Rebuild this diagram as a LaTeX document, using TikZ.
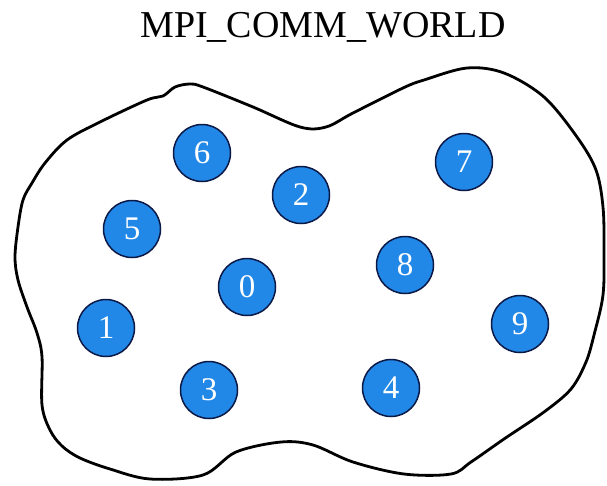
\documentclass[tikz,border=0pt]{standalone}
\usepackage{fontspec}
\setmainfont{Liberation Serif}
\definecolor{procfill}{RGB}{34,136,232}
\definecolor{procline}{RGB}{10,25,70}
\begin{document}
\begin{tikzpicture}[x=1pt,y=-1pt,
  proc/.style={circle,draw=procline,line width=1.5pt,fill=procfill,minimum size=57pt,inner sep=0pt,text=white,font=\fontsize{33}{33}\selectfont},
  blob/.style={draw=black,line width=2.8pt}]
\useasboundingbox (0,0) rectangle (607,485);
\node[anchor=base,font=\fontsize{38}{38}\selectfont] (title) at (323,37) {MPI\_COMM\_WORLD};
\draw[blob] plot[smooth cycle,tension=0.55] coordinates {
 (18,280) (15,257) (18,227) (23,200) (32,183) (45,163) (67,140) (100,122) (147,100) (163,96)
 (175,87) (190,84) (203,87) (253,107) (300,127) (326,127) (353,113) (403,88) (424,80)
 (467,68) (504,73) (544,97) (577,137) (596,170) (603,207) (604,250) (603,295) (594,335)
 (586,362) (571,389) (544,412) (504,439) (471,462) (451,474) (404,474) (353,462)
 (313,445) (281,442) (236,452) (203,475) (150,479) (110,469) (80,458) (62,446) (50,430)
 (42,405) (42,357) (37,333) (27,307)};
\node[proc] (p0) at (247,287) {0};
\node[proc] (p1) at (106,328) {1};
\node[proc] (p2) at (301,195) {2};
\node[proc] (p3) at (209,390) {3};
\node[proc] (p4) at (391,388) {4};
\node[proc] (p5) at (132,229) {5};
\node[proc] (p6) at (202,153) {6};
\node[proc] (p7) at (464,162) {7};
\node[proc] (p8) at (405,265) {8};
\node[proc] (p9) at (520,324) {9};
\end{tikzpicture}
\end{document}
